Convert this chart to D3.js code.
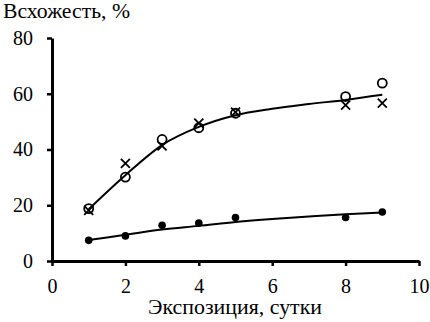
<!DOCTYPE html>
<head>
  <meta charset="utf-8">
  <script src="https://cdn.jsdelivr.net/npm/d3@7/dist/d3.min.js"></script>
</head>
<body style="margin:0">
  <div id="chartDiv"></div>
  <script>

  // days of exposure
  var days = [1, 2, 3, 4, 5, 8, 9];
  // germination, %: three series
  var circleValues = [18.8, 30.1, 43.6, 47.8, 53.0, 59.0, 63.8];
  var crossValues  = [18.2, 35.0, 41.3, 49.5, 53.4, 55.9, 56.6];
  var dotValues    = [7.4, 9.0, 12.8, 13.6, 15.6, 15.6, 17.6];

  // trend lines
  var trendDays  = [1, 2, 3, 4, 5, 6, 7, 8, 9];
  var upperTrend = [18.6, 30.8, 41.6, 48.1, 52.3, 54.6, 56.3, 57.8, 59.6];
  var lowerTrend = [7.5, 9.4, 11.3, 12.6, 14.0, 15.1, 16.0, 16.8, 17.4];

  var xTicks = [0, 2, 4, 6, 8, 10];
  var yTicks = [0, 20, 40, 60, 80];

  var width = 430;
  var height = 322;
  var font = "'Times New Roman', 'Liberation Serif', Tinos, serif";

  var svg = d3.select("#chartDiv").append("svg")
    .attr("width", width)
    .attr("height", height)
    .style("font-family", font);

  var x = d3.scaleLinear().domain([0, 10]).range([52, 419]);
  var y = d3.scaleLinear().domain([0, 80]).range([261, 38]);

  // titles first
  svg.append("text")
    .attr("x", 3)
    .attr("y", 18)
    .style("font-family", font)
    .style("font-size", "21px")
    .attr("textLength", 127)
    .attr("lengthAdjust", "spacingAndGlyphs")
    .text("Всхожесть, %");

  svg.append("text")
    .attr("x", 148)
    .attr("y", 314)
    .style("font-family", font)
    .style("font-size", "21px")
    .attr("textLength", 174)
    .attr("lengthAdjust", "spacingAndGlyphs")
    .text("Экспозиция, сутки");

  // trend lines
  var line = d3.line()
    .x(function(d) { return x(d[0]); })
    .y(function(d) { return y(d[1]); })
    .curve(d3.curveMonotoneX);

  [upperTrend, lowerTrend].forEach(function(t) {
    svg.append("path")
      .datum(d3.zip(trendDays, t))
      .attr("d", line)
      .style("fill", "none")
      .style("stroke", "black")
      .style("stroke-width", 2);
  });

  // open circles
  svg.append("g").selectAll("circle")
    .data(d3.zip(days, circleValues))
    .enter()
    .append("circle")
    .attr("cx", function(d) { return x(d[0]); })
    .attr("cy", function(d) { return y(d[1]); })
    .attr("r", 4.5)
    .style("fill", "none")
    .style("stroke", "black")
    .style("stroke-width", 1.8);

  // crosses
  var s = 4.5;
  svg.append("g").selectAll("path")
    .data(d3.zip(days, crossValues))
    .enter()
    .append("path")
    .attr("d", function(d) {
      var cx = x(d[0]), cy = y(d[1]);
      return "M" + (cx - s) + "," + (cy - s) + "L" + (cx + s) + "," + (cy + s) +
             "M" + (cx - s) + "," + (cy + s) + "L" + (cx + s) + "," + (cy - s);
    })
    .style("fill", "none")
    .style("stroke", "black")
    .style("stroke-width", 1.8);

  // filled dots
  svg.append("g").selectAll("circle")
    .data(d3.zip(days, dotValues))
    .enter()
    .append("circle")
    .attr("cx", function(d) { return x(d[0]); })
    .attr("cy", function(d) { return y(d[1]); })
    .attr("r", 3.8)
    .style("fill", "black");

  // axes
  var xAxis = svg.append("g")
    .attr("transform", "translate(0," + y(0) + ")")
    .call(d3.axisBottom(x).tickValues(xTicks).tickSize(5).tickSizeOuter(0).tickPadding(13));

  var yAxis = svg.append("g")
    .attr("transform", "translate(" + x(0) + ",0)")
    .call(d3.axisLeft(y).tickValues(yTicks).tickSize(5).tickSizeOuter(0).tickPadding(14));

  [xAxis, yAxis].forEach(function(a) {
    a.attr("font-family", null).attr("font-size", null)
      .style("font-family", font).style("font-size", "20px");
    a.select(".domain").style("stroke", "black").style("stroke-width", 3);
    a.selectAll(".tick line").style("stroke", "black").style("stroke-width", 2.5);
    a.selectAll(".tick text")
      .style("font-family", font)
      .style("font-size", "20px")
      .style("fill", "black");
  });

  </script>
</body>
